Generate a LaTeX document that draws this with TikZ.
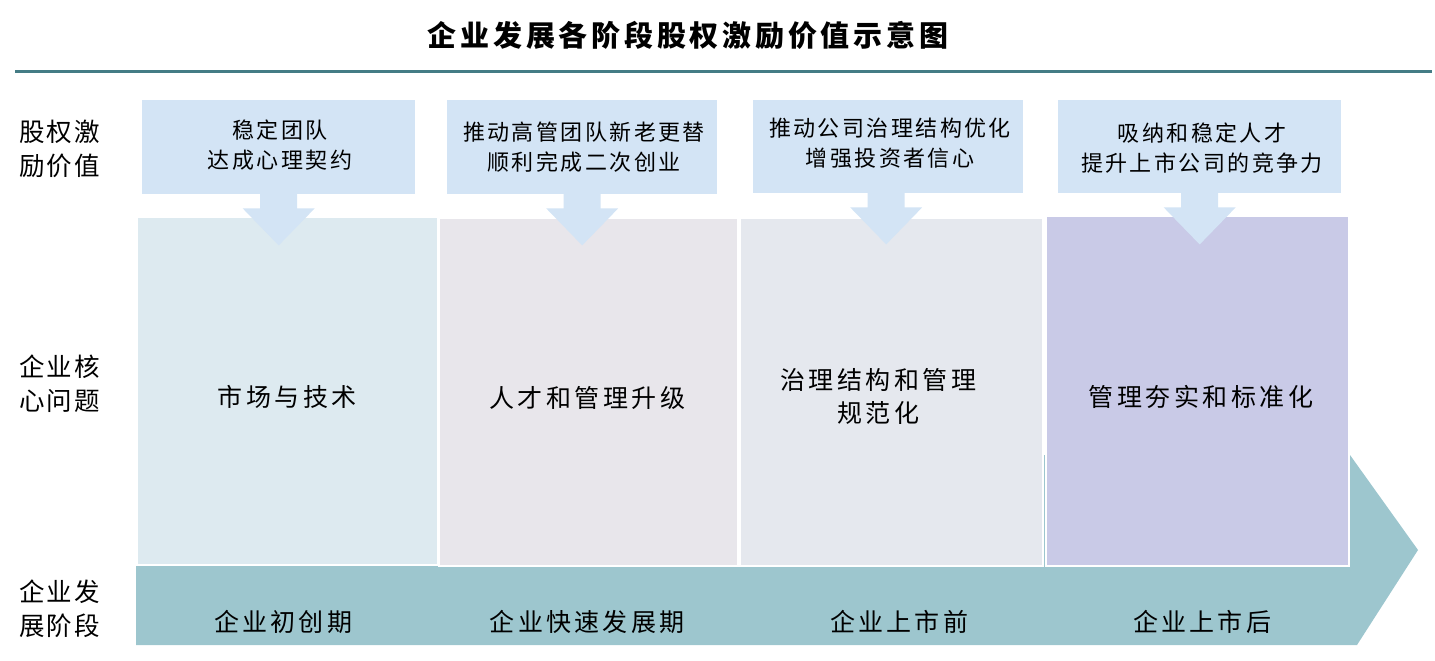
\documentclass[tikz,border=0pt]{standalone}
\usepackage{fontspec}
\setmainfont{Noto Sans CJK SC}
\usetikzlibrary{calc}
\definecolor{topbox}{HTML}{D3E4F5}
\definecolor{pone}{HTML}{DDEAF0}
\definecolor{ptwo}{HTML}{E8E6EB}
\definecolor{pthree}{HTML}{E5E8EE}
\definecolor{pfour}{HTML}{C9CAE7}
\definecolor{band}{HTML}{9DC6CE}
\definecolor{rule}{HTML}{447C85}
\tikzset{
  valbox/.style={fill=topbox, draw=none, minimum width=272, minimum height=94, anchor=north west, inner sep=0},
  panel/.style={draw=white, line width=2pt, minimum width=301, minimum height=348, anchor=north west, inner sep=0},
  rowlab/.style={font=\fontsize{25.5}{34}\selectfont\addfontfeature{LetterSpace=9}, align=left, anchor=west, inner sep=0},
  valtxt/.style={font=\fontsize{22}{30}\selectfont\addfontfeature{LetterSpace=11}, align=center, inner sep=0},
  midtxt/.style={font=\fontsize{25}{33}\selectfont\addfontfeature{LetterSpace=14}, align=center, inner sep=0},
  bandtxt/.style={font=\fontsize{25}{30}\selectfont\addfontfeature{LetterSpace=13}, inner sep=0},
  downarrow/.style={fill=topbox, draw=none}
}
\begin{document}
\begin{tikzpicture}[x=1pt,y=-1pt]
\useasboundingbox (0,0) rectangle (1435,661);
% title and rule
\node[font=\bfseries\fontsize{29}{32}\selectfont\addfontfeature{LetterSpace=13}, inner sep=0] (title) at (688,35) {企业发展各阶段股权激励价值示意图};
\coordinate (rl) at (15,72);
\coordinate (rr) at (1432,72);
\draw[rule, line width=3pt] (rl) -- (rr);
% big stage arrow
\fill[band] (136,455) -- (1350,455) -- (1418,550) -- (1357,645) -- (136,645) -- cycle;
% panels
\node[panel, fill=pone] (m1) at (136,216) {};
\node[panel, fill=ptwo, minimum width=299] (m2) at (438,217) {};
\node[panel, fill=pthree, minimum width=303] (m3) at (739,217) {};
\node[panel, fill=pfour, minimum width=303, minimum height=350] (m4) at (1045,215) {};
% top value boxes
\node[valbox, minimum width=273] (v1) at (142,100) {};
\node[valbox, minimum width=270] (v2) at (447,100) {};
\node[valbox, minimum width=270, minimum height=93] (v3) at (753,100) {};
\node[valbox, minimum width=283, minimum height=93] (v4) at (1058,100) {};
% down arrows
\foreach \b/\dx in {v1/0,v2/0,v3/-2,v4/0}{
  \fill[downarrow] ($(\b.south)+(\dx-18.5,-1)$) -- ++(37,0) -- ++(0,15) -- ++(17.5,0)
    -- ($(\b.south)+(\dx,51)$) -- ($(\b.south)+(\dx-36,14)$) -- ++(17.5,0) -- cycle;
}
% value texts
\node[valtxt] (t1) at (280,145) {稳定团队\\达成心理契约};
\node[valtxt] (t2) at (584,147) {推动高管团队新老更替\\顺利完成二次创业};
\node[valtxt] (t3) at (890,143) {推动公司治理结构优化\\增强投资者信心};
\node[valtxt] (t4) at (1202,148) {吸纳和稳定人才\\提升上市公司的竞争力};
% panel texts
\node[midtxt] (c1) at (287,397) {市场与技术};
\node[midtxt] (c2) at (587,398) {人才和管理升级};
\node[midtxt] (c3) at (878,396) {治理结构和管理\\规范化};
\node[midtxt] (c4) at (1201,397) {管理夯实和标准化};
% stage texts
\node[bandtxt] (s1) at (283,622) {企业初创期};
\node[bandtxt] (s2) at (587,622) {企业快速发展期};
\node[bandtxt] (s3) at (899,622) {企业上市前};
\node[bandtxt] (s4) at (1202,622) {企业上市后};
% row labels
\node[rowlab] (r1) at (19,149) {股权激\\励价值};
\node[rowlab] (r2) at (19,384) {企业核\\心问题};
\node[rowlab] (r3) at (19,609) {企业发\\展阶段};
\end{tikzpicture}
\end{document}
